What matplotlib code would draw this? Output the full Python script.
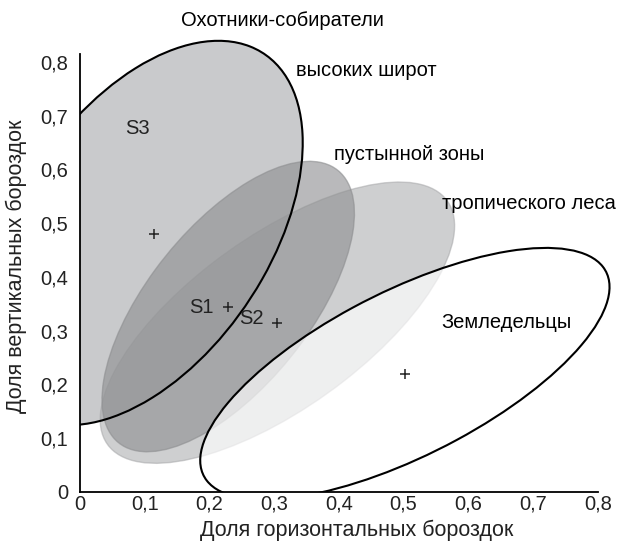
import numpy as np
import matplotlib
matplotlib.use('Agg')
import matplotlib.pyplot as plt
from matplotlib.patches import Ellipse

plt.rcParams['font.family'] = ['Liberation Sans', 'DejaVu Sans']

# Группы: центр (+), оси эллипса и наклон (в единицах данных)
groups = ['тропического леса', 'пустынной зоны', 'Земледельцы']
center_x = [0.305, 0.229, 0.502]
center_y = [0.315, 0.345, 0.22]
ell_width = [0.696, 0.612, 0.730]
ell_height = [0.299, 0.264, 0.294]
ell_angle = [43.1, 58.65, 33.05]

# контур "высоких широт" (S3)
s3_center = (0.115, 0.48)
s3_outline_x = [0.0, 0.082, 0.185, 0.242, 0.304, 0.335, 0.346, 0.343, 0.329, 0.314, 0.263, 0.242, 0.211, 0.108, 0.0]
s3_outline_y = [0.70, 0.790, 0.835, 0.837, 0.79, 0.729, 0.668, 0.605, 0.53, 0.482, 0.357, 0.339, 0.264, 0.177, 0.12]

ticks = [0, 0.1, 0.2, 0.3, 0.4, 0.5, 0.6, 0.7, 0.8]
tick_labels = ['0', '0,1', '0,2', '0,3', '0,4', '0,5', '0,6', '0,7', '0,8']

# подписи выборок
sample_names = ['S3', 'S1', 'S2']
sample_x = [0.088, 0.187, 0.265]
sample_y = [0.677, 0.344, 0.322]

# facecolor, alpha, edgecolor
styles = {
    'тропического леса': ('#a4a5a7', 0.53, None),
    'пустынной зоны': ('#8e8f91', 0.62, None),
    'Земледельцы': ('white', 0.67, 'black'),
}


def fit_ellipse(xs, ys):
    """conic a x^2 + b xy + c y^2 + d x + e y = 1 -> center, width, height, angle"""
    xs, ys = np.asarray(xs), np.asarray(ys)
    M = np.column_stack([xs**2, xs*ys, ys**2, xs, ys])
    a, b, c, d, e = np.linalg.lstsq(M, np.ones_like(xs), rcond=None)[0]
    x0, y0 = np.linalg.solve([[2*a, b], [b, 2*c]], [-d, -e])
    K = 1 - (a*x0**2 + b*x0*y0 + c*y0**2 + d*x0 + e*y0)
    Q = np.array([[a, b/2], [b/2, c]]) / K
    vals, vecs = np.linalg.eigh(Q)
    semi = 1 / np.sqrt(vals)
    ang = np.degrees(np.arctan2(vecs[1, 0], vecs[0, 0]))
    return (x0, y0), 2*semi[0], 2*semi[1], ang


fig = plt.figure(figsize=(6.17, 5.42), dpi=100)
ax = fig.add_axes([0.1297, 0.0923, 0.8705, 0.8925])
ax.set_xlim(0, 0.83)
ax.set_ylim(0, 0.9)

# S3 - охотники высоких широт
c3, w3, h3, a3 = fit_ellipse(s3_outline_x, s3_outline_y)
ax.add_patch(Ellipse(c3, w3, h3, angle=a3, facecolor='#c9cacc', edgecolor='none', zorder=1))
ax.add_patch(Ellipse(c3, w3, h3, angle=a3, facecolor='none', edgecolor='black', lw=1.5, zorder=6))

for i, g in enumerate(groups):
    fc, a, ec = styles[g]
    # мягкий край: обводка того же цвета даёт чуть более тёмный ободок
    ax.add_patch(Ellipse((center_x[i], center_y[i]), ell_width[i], ell_height[i], angle=ell_angle[i],
                         facecolor=fc, alpha=a, edgecolor=fc if ec is None else 'none',
                         lw=1.0, zorder=2 + i))
    if ec is not None:
        ax.add_patch(Ellipse((center_x[i], center_y[i]), ell_width[i], ell_height[i], angle=ell_angle[i],
                             facecolor='none', edgecolor=ec, lw=1.5, zorder=6))

plus_x = [s3_center[0]] + center_x
plus_y = [s3_center[1]] + center_y
ax.plot(plus_x, plus_y, ls='none', marker='+', color='#222222', ms=7, mew=1.1, zorder=7)

for name, x, y in zip(sample_names, sample_x, sample_y):
    ax.text(x, y, name, fontsize=14.5, color='#222222', ha='center', va='center', zorder=8)

# подписи групп
fs = 14.5
ax.text(0.313, 0.878, 'Охотники-собиратели', fontsize=fs, ha='center', va='center', clip_on=False)
ax.text(0.334, 0.785, 'высоких широт', fontsize=fs, ha='left', va='center')
ax.text(0.392, 0.627, 'пустынной зоны', fontsize=fs, ha='left', va='center')
ax.text(0.559, 0.536, 'тропического леса', fontsize=fs, ha='left', va='center')
ax.text(0.559, 0.316, 'Земледельцы', fontsize=fs, ha='left', va='center', zorder=8)

ax.set_xticks(ticks)
ax.set_xticklabels(tick_labels)
ax.set_yticks(ticks)
ax.set_yticklabels(tick_labels)
ax.tick_params(length=0, labelsize=fs, colors='#222222')
ax.tick_params(axis='x', pad=2)
ax.tick_params(axis='y', pad=8.5)

for s in ['top', 'right']:
    ax.spines[s].set_visible(False)
ax.spines['left'].set_bounds(0, 0.815)
ax.spines['bottom'].set_bounds(0, 0.8)
for s in ['left', 'bottom']:
    ax.spines[s].set_linewidth(1.3)
    ax.spines[s].set_zorder(9)

ax.set_xlabel('Доля горизонтальных бороздок', fontsize=15.5, color='#222222')
ax.set_ylabel('Доля вертикальных бороздок', fontsize=15.5, color='#222222')
ax.xaxis.set_label_coords(0.515, -0.057)
ax.yaxis.set_label_coords(-0.098, 0.467)

fig.savefig('out.png', dpi=100)
